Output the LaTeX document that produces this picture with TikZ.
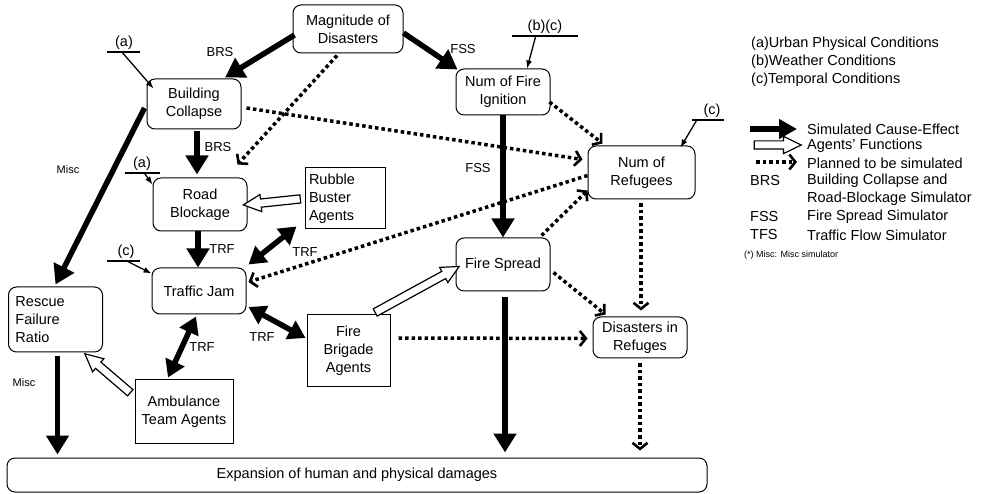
\documentclass[tikz,border=0pt]{standalone}
\usepackage{fontspec}
\setmainfont{Liberation Sans}
\usetikzlibrary{arrows.meta,calc,shapes.arrows}
\tikzset{
  txt/.style={font=\fontsize{14.5}{18}\selectfont},
  lbl/.style={font=\fontsize{13}{15}\selectfont, inner sep=0pt},
  misclbl/.style={font=\fontsize{11}{13}\selectfont, inner sep=0pt},
  rbox/.style={txt, draw, rounded corners=8pt, line width=1pt, align=center, inner sep=2pt},
  sbox/.style={txt, draw, line width=1pt, align=center, inner sep=2pt},
  simarr/.style={line width=5.5pt, -{Triangle[length=19pt,width=22pt]}},
  simdbl/.style={line width=5.5pt, {Triangle[length=17pt,width=20pt]}-{Triangle[length=17pt,width=20pt]}},
  planarr/.style={line width=3.5pt, dash pattern=on 3.5pt off 3pt, -{Straight Barb[length=6pt,width=15pt,line width=2.6pt]}},
  condarr/.style={line width=1.3pt, -{Latex[length=8pt,width=6pt]}},
  condline/.style={line width=1.6pt},
  condtxt/.style={txt, inner sep=0pt},
  hollowstyle/.style={single arrow, draw, line width=1.2pt, fill=white, inner xsep=0pt, inner ysep=3.5pt,
     text height=0pt, text depth=0pt, text width=0pt, single arrow head extend=4.5pt, single arrow tip angle=52, outer sep=0pt},
}
\newcommand\hollowarrow[2]{%
  \path let \p1=(#1), \p2=(#2), \n1={atan2(\y2-\y1,\x2-\x1)}, \n2={veclen(\x2-\x1,\y2-\y1)} in
    node[hollowstyle, minimum height=\n2, rotate=\n1] at ($(\p1)!0.5!(\p2)$) {};}
\begin{document}
\begin{tikzpicture}[x=1pt,y=-1pt]
\useasboundingbox (0,0) rectangle (994,494);

% nodes
\node[rbox, minimum width=110pt, minimum height=48pt] (mag) at (348,29) {Magnitude of\\Disasters};
\node[rbox, minimum width=94pt, minimum height=50pt] (bc) at (194,104) {Building\\Collapse};
\node[rbox, minimum width=94pt, minimum height=53pt] (rb) at (200,204.5) {Road\\Blockage};
\node[sbox, minimum width=80pt, minimum height=61pt, align=left, text width=72pt, inner xsep=4pt] (rub) at (345,198.5) {Rubble\\Buster\\Agents};
\node[rbox, minimum width=94pt, minimum height=46pt] (tj) at (199,291) {Traffic Jam};
\node[rbox, text width=80pt, inner xsep=7pt, minimum height=65pt, align=left] (rfr) at (55.5,319.5) {Rescue\\Failure\\Ratio};
\node[sbox, minimum width=98pt, minimum height=63pt] (amb) at (184,411.5) {Ambulance\\Team Agents};
\node[sbox, minimum width=83pt, minimum height=72pt] (fba) at (348.5,351) {Fire\\Brigade\\Agents};
\node[rbox, minimum width=700pt, minimum height=34pt] (exp) at (357,475) {Expansion of human and physical damages};
\node[rbox, minimum width=94pt, minimum height=46pt] (nfi) at (503,92) {Num of Fire\\Ignition};
\node[rbox, minimum width=107pt, minimum height=53pt] (nr) at (641.5,172.5) {Num of\\Refugees};
\node[rbox, minimum width=94pt, minimum height=53pt] (fs) at (503,264.5) {Fire Spread};
\node[rbox, minimum width=94pt, minimum height=41pt] (dr) at (640,337.5) {Disasters in\\Refuges};

% condition markers
\coordinate (ca1l) at (107,52); \coordinate (ca1r) at (140,52);
\draw[condline] (ca1l) -- (ca1r);
\node[condtxt, anchor=south] (ca1t) at (124,50) {(a)};
\draw[condarr] ($(ca1l)!0.45!(ca1r)$) -- ($(bc.north west)+(7,10)$);

\coordinate (ca2l) at (125,173); \coordinate (ca2r) at (160,173);
\draw[condline] (ca2l) -- (ca2r);
\node[condtxt, anchor=south] (ca2t) at (142,171) {(a)};
\draw[condarr] ($(ca2l)!0.55!(ca2r)$) -- ($(rb.north west)+(0,7)$);

\coordinate (cc1l) at (107,261); \coordinate (cc1r) at (140,261);
\draw[condline] (cc1l) -- (cc1r);
\node[condtxt, anchor=south] (cc1t) at (126,259) {(c)};
\draw[condarr] ($(cc1l)!0.6!(cc1r)$) -- ($(tj.north west)+(0,6)$);

\coordinate (cbcl) at (512,36); \coordinate (cbcr) at (578,36);
\draw[condline] (cbcl) -- (cbcr);
\node[condtxt, anchor=south] (cbct) at (545,34) {(b)(c)};
\draw[condarr] ($(cbcl)!0.36!(cbcr)$) -- ($(nfi.north)+(24,0)$);

\coordinate (cc2l) at (692,120); \coordinate (cc2r) at (724,120);
\draw[condline] (cc2l) -- (cc2r);
\node[condtxt, anchor=south] (cc2t) at (712,118) {(c)};
\draw[condarr] ($(cc2l)!0.15!(cc2r)$) -- ($(nr.north east)+(-15,2)$);

% simulated cause-effect
\draw[simarr] ($(mag.west)+(2,6)$) -- ($(bc.north)+(31,-1)$);
\node[lbl] (l1) at (220,52) {BRS};
\draw[simarr] ($(mag.east)+(0,4)$) -- ($(nfi.north west)+(2,1)$);
\node[lbl] (l2) at (463,49) {FSS};
\draw[simarr] (nfi.south) -- (fs.north);
\node[lbl] (l3) at (478,168) {FSS};
\draw[simarr] ($(bc.south)+(3,2)$) -- ($(rb.north)+(-3,-3)$);
\node[lbl] (l4) at (218,147) {BRS};
\draw[simarr] ($(bc.west)+(-2,4)$) -- ($(rfr.north)+(0,-2)$);
\node[misclbl] (l5) at (68,170) {Misc};
\draw[simarr] ($(rb.south)+(-2,0)$) -- ($(tj.north)+(-1,0)$);
\node[lbl] (l6) at (222,249) {TRF};
\draw[simdbl] ($(rub.south west)+(-8,-3)$) -- ($(tj.north east)+(2,-3)$);
\node[lbl] (l7) at (305,252) {TRF};
\draw[simdbl] ($(tj.east)+(2,16)$) -- ($(fba.west)+(-1,-13)$);
\node[lbl] (l8) at (262,337) {TRF};
\draw[simdbl] ($(tj.south)+(-3,2)$) -- ($(amb.north)+(-16,-2)$);
\node[lbl] (l9) at (202,347) {TRF};
\draw[simarr] ($(rfr.south)+(2,4)$) -- ($(rfr.south |- exp.north)+(2,-3)$);
\node[misclbl] (l10) at (24,383) {Misc};
\draw[simarr] ($(fs.south)+(2,6)$) -- ($(fs.south |- exp.north)+(2,-5)$);

% agents' functions
\hollowarrow{rub.west}{rb.east}
\hollowarrow{$(amb.west)+(-1,-16)$}{$(rfr.south east)+(-15,4)$}
\hollowarrow{$(fba.north)+(23,0)$}{$(fs.west)+(0,4)$}

% planned
\draw[planarr] ($(mag.south)+(-11,2)$) -- ($(rb.north east)+(-10,-13)$);
\draw[planarr] ($(bc.east)+(5,4)$) -- ($(nr.west)+(-5,-13)$);
\draw[planarr] ($(nfi.east)+(-1,10)$) -- ($(nr.north west)+(15,-2)$);
\draw[planarr] ($(nr.west)+(0,3)$) -- ($(tj.east)+(2,-9)$);
\draw[planarr] ($(fba.east)+(8,-13)$) -- ($(dr.west)+(-5,1)$);
\draw[planarr] ($(fs.north east)+(-9,-2)$) -- ($(nr.south west)+(0,-9)$);
\draw[planarr] ($(fs.east)+(3,8)$) -- ($(dr.north west)+(13,-2)$);
\draw[planarr] ($(nr.south)+(-0.5,4)$) -- ($(dr.north)+(1,-6)$);
\draw[planarr] ($(dr.south)+(0,5)$) -- ($(dr.south |- exp.north)+(0,-7)$);

% legend
\node[txt, anchor=west, inner sep=0pt] (lga) at (751,44) {(a)Urban Physical Conditions};
\node[txt, anchor=west, inner sep=0pt] (lgb) at (751,62) {(b)Weather Conditions};
\node[txt, anchor=west, inner sep=0pt] (lgc) at (751,80) {(c)Temporal Conditions};
\coordinate (k1a) at (750,129); \coordinate (k1b) at (797,129);
\draw[line width=6.5pt, -{Triangle[length=18pt,width=19pt]}] (k1a) -- (k1b);
\coordinate (k2a) at (750,145); \coordinate (k2b) at (797,145);
\hollowarrow{k2a}{k2b}
\coordinate (k3a) at (756,162); \coordinate (k3b) at (797,162);
\draw[planarr] (k3a) -- (k3b);
\node[txt, anchor=west, inner sep=0pt] (t1) at (807,129) {Simulated Cause-Effect};
\node[txt, anchor=west, inner sep=0pt] (t2) at (807,146) {Agents' Functions};
\node[txt, anchor=west, inner sep=0pt] (t3) at (807,163) {Planned to be simulated};
\node[txt, anchor=west, inner sep=0pt] (a4) at (750,181) {BRS};
\node[txt, anchor=west, inner sep=0pt] (t4) at (807,181) {Building Collapse and};
\node[txt, anchor=west, inner sep=0pt] (t5) at (807,199) {Road-Blockage Simulator};
\node[txt, anchor=west, inner sep=0pt] (a6) at (750,217) {FSS};
\node[txt, anchor=west, inner sep=0pt] (t6) at (807,217) {Fire Spread Simulator};
\node[txt, anchor=west, inner sep=0pt] (a7) at (750,235) {TFS};
\node[txt, anchor=west, inner sep=0pt] (t7) at (807,235) {Traffic Flow Simulator};
\node[font=\fontsize{9}{11}\selectfont, anchor=west, inner sep=0pt] (t8) at (744,255) {(*) Misc: Misc simulator};
\end{tikzpicture}
\end{document}
